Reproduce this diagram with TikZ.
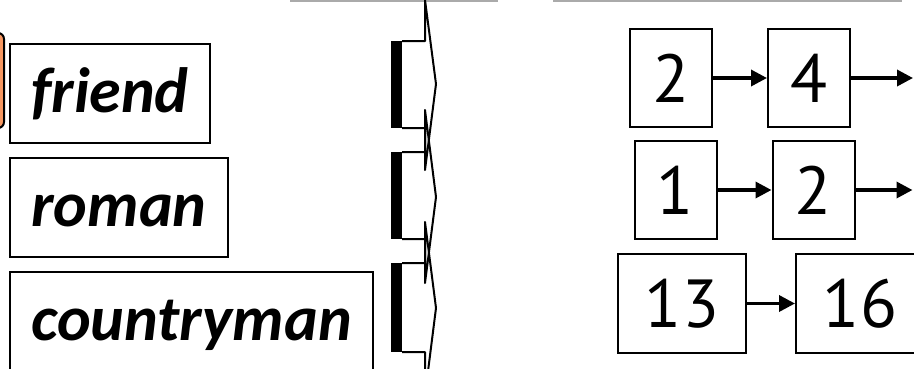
\documentclass[tikz,border=0pt]{standalone}
\usepackage{fontspec}
\setsansfont{Carlito}
\newfontfamily\numfont{PT Sans}
\usetikzlibrary{positioning, arrows.meta}
\definecolor{hlOrange}{RGB}{246,152,98}
\definecolor{ruleGray}{RGB}{170,170,170}

\begin{document}
\begin{tikzpicture}[
    x=1pt, y=-1pt,
    term/.style={draw, line width=2pt, inner sep=0pt, minimum height=99pt,
                 text height=48pt, text depth=11pt,
                 font=\fontsize{64}{64}\selectfont\sffamily\bfseries\itshape},
    post/.style={draw, line width=2pt, inner sep=0pt, minimum width=82pt,
                 minimum height=98pt, text height=48pt, text depth=0pt,
                 font=\fontsize{68}{68}\selectfont\numfont},
    link/.style={-{Triangle[length=16pt, width=16pt]}, line width=3.5pt},
    ptr/.style={line width=2pt, line join=round},
    bar/.style={line width=11pt, line cap=butt},
  ]
    \useasboundingbox (0,0) rectangle (914,368);

    % column rules
    \draw[ruleGray, line width=2pt] (290,1) -- (498,1);
    \draw[ruleGray, line width=2pt] (553,1) -- (902,1);

    % dictionary
    \draw[fill=hlOrange, line width=2pt, rounded corners=6pt] (-60,33) rectangle (4,128);
    \node[term, minimum width=200pt] (friend) at (110,93.5) {friend};
    \node[term, minimum width=218pt, below right=13pt and 0pt of friend.south west] (roman) {roman};
    \node[term, minimum width=363pt, below right=13pt and 0pt of roman.south west] (country) {countryman};

    % pointers
    \foreach \ya/\yb/\yc/\yd/\ye in {0/41/84/128/170, 110/152/197/239/283, 222/263/308/352/395} {
      \draw[bar] (396.5,\yb) -- (396.5,\yd);
      \draw[ptr] (402,\yb) -- (425,\yb) -- (425,\ya) -- (436,\yc) -- (425,\ye) -- (425,\yd) -- (402,\yd);
    }

    % postings
    \node[post] (p2a) at (671,78) {2};
    \node[post, right=54pt of p2a] (p4) {4};
    \coordinate[right=62pt of p4.east] (p4nil);
    \node[post] (p1) at (675.5,190) {1};
    \node[post, right=54pt of p1] (p2b) {2};
    \coordinate[right=57pt of p2b.east] (p2nil);
    \node[post, minimum width=128pt, minimum height=99pt] (p13) at (682,303.5) {13};
    \node[post, minimum width=128pt, minimum height=99pt, right=48pt of p13] (p16) {16};

    \draw[link] (p2a) -- (p4);
    \draw[link] (p4) -- (p4nil);
    \draw[link] (p1) -- (p2b);
    \draw[link] (p2b) -- (p2nil);
    \draw[link] (p13) -- (p16);
  \end{tikzpicture}
\end{document}
